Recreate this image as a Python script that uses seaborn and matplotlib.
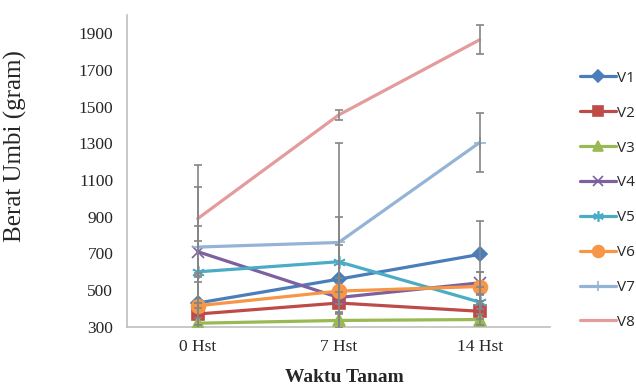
import numpy as np
import pandas as pd
import matplotlib
matplotlib.use("Agg")
import matplotlib.pyplot as plt
import seaborn as sns

sns.set_style("white")
plt.rcParams['font.family'] = ['Liberation Serif', 'DejaVu Serif']

# data
waktu = ["0 Hst", "7 Hst", "14 Hst"]
varietas = ["V1", "V2", "V3", "V4", "V5", "V6", "V7", "V8"]
v1 = [430, 560, 695]
v2 = [370, 430, 385]
v3 = [320, 335, 340]
v4 = [710, 460, 540]
v5 = [600, 655, 435]
v6 = [415, 495, 520]
v7 = [735, 760, 1305]
v8 = [890, 1455, 1865]
# standard error bars (estimated)
e1 = [150, 340, 180]
e2 = [60, 60, 40]
e3 = [30, 40, 30]
e4 = [140, 80, 60]
e5 = [170, 90, 40]
e6 = [130, 70, 80]
e7 = [330, 545, 160]
e8 = [295, 25, 80]

nilai = [v1, v2, v3, v4, v5, v6, v7, v8]
galat = [e1, e2, e3, e4, e5, e6, e7, e8]
warna = ["#4A7EBB", "#BE4B48", "#98B954", "#7D60A0",
         "#4BACC6", "#F79646", "#95B3D7", "#E39C9B"]
penanda = ["D", "s", "^", "x", (6, 2, 0), "o", "+", ""]
ukuran = [7, 8, 8, 8, 9, 10, 9, 0]

df = pd.DataFrame({
    "waktu": waktu * len(varietas),
    "pos": list(np.arange(len(waktu))) * len(varietas),
    "berat": sum(nilai, []),
    "galat": sum(galat, []),
    "var": [v for v in varietas for _ in waktu],
})

fig = plt.figure(figsize=(6.36, 3.85), dpi=100)
ax = fig.add_axes([0.2, 0.151, 0.665, 0.81])

for i, v in enumerate(varietas):
    d = df[df["var"] == v]
    sns.lineplot(data=d, x="pos", y="berat", ax=ax, color=warna[i],
                 linewidth=2.3, marker=penanda[i] if penanda[i] else None,
                 markersize=ukuran[i], markeredgecolor=warna[i],
                 markeredgewidth=1.2, label=v, zorder=3)
    ax.errorbar(d["pos"], d["berat"], yerr=d["galat"], fmt="none",
                ecolor="#858585", elinewidth=1.2, capsize=3, capthick=1.2,
                zorder=4)

ax.set_xlim(-0.5, 2.5)
ax.set_ylim(300, 2000)
ax.set_yticks(np.arange(300, 2000, 200))
ax.set_xticks(np.arange(len(waktu)))
ax.set_xticklabels(waktu)
ax.set_xticks([0.5, 1.5, 2.5], minor=True)
ax.tick_params(axis="x", which="major", length=0, labelsize=12.5, pad=9)
ax.tick_params(axis="x", which="minor", length=4, color="#BFBFBF", width=1)
ax.tick_params(axis="y", length=4, color="#BFBFBF", labelsize=12.5, pad=6)
for s in ["top", "right"]:
    ax.spines[s].set_visible(False)
for s in ["left", "bottom"]:
    ax.spines[s].set_color("#BFBFBF")
    ax.spines[s].set_linewidth(1.2)

ax.set_xlabel("Waktu Tanam", fontsize=14, fontweight="bold")
ax.xaxis.set_label_coords(0.513, -0.135)
ax.set_ylabel("Berat Umbi (gram)", fontsize=18)
ax.yaxis.set_label_coords(-0.236, 0.58)

leg = ax.legend(loc="upper left", bbox_to_anchor=(0.903, 0.832),
                bbox_transform=fig.transFigure, frameon=False,
                handlelength=2.35, handletextpad=0.05, labelspacing=1.3,
                borderaxespad=0, markerscale=0.85,
                prop={"family": "Open Sans", "size": 11})

fig.savefig("out.png", dpi=100)
